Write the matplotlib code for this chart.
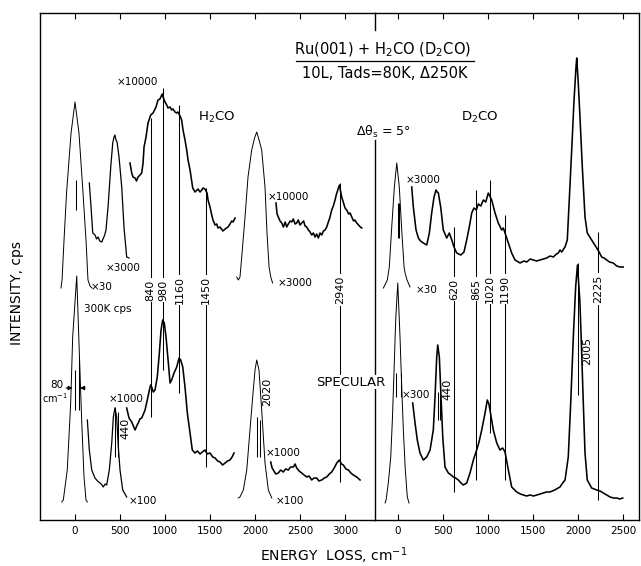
import matplotlib
matplotlib.use("Agg")
import matplotlib.pyplot as plt
from matplotlib.lines import Line2D

plt.rcParams['font.family'] = ['DejaVu Sans']
plt.rcParams['mathtext.default'] = 'regular'

# ---------------- data: energy loss (cm-1) / intensity (arb. units) ----------------
# H2CO, upper spectrum
h_up_el_E = [-156, -144, -122, -94, -44, 0, 44, 89, 122, 144, 167, 189]
h_up_el_I = [232, 240, 280, 327, 387, 418, 387, 327, 280, 240, 234, 232]

h_up_b_E = [159, 178, 197, 222, 240, 256, 275, 297, 311, 330, 344, 367, 397, 419, 433, 444, 455, 467, 489, 519, 544, 574, 600]
h_up_b_I = [337, 313, 287, 285, 281, 283, 279, 278, 281, 285, 290, 313, 353, 377, 383, 385, 380, 378, 363, 333, 293, 263, 262]

h_up_c_E = [611, 630, 644, 667, 683, 700, 722, 741, 756, 767, 789, 811, 841, 867, 900, 922, 944, 963, 974, 978,
            1000, 1019, 1033, 1056, 1074, 1089, 1111, 1130, 1144, 1167, 1185, 1200, 1222, 1241, 1256, 1278, 1308, 1333,
            1367, 1389, 1408, 1422, 1444, 1467, 1478, 1500, 1519, 1533, 1556, 1574, 1589, 1611, 1644, 1667, 1700, 1722,
            1741, 1756, 1778]
h_up_c_I = [357, 347, 343, 342, 339, 343, 345, 347, 357, 373, 383, 397, 405, 407, 413, 420, 421, 425, 426, 423,
            418, 415, 412, 413, 410, 411, 408, 407, 408, 404, 400, 390, 380, 370, 360, 350, 332, 328,
            331, 328, 330, 332, 331, 327, 320, 313, 305, 300, 295, 296, 292, 293, 289, 291, 293, 296,
            299, 298, 302]

h_up_d_E = [1796, 1815, 1833, 1856, 1889, 1922, 1963, 1995, 2019, 2045, 2074, 2111, 2133, 2156, 2175, 2195]
h_up_d_I = [243, 240, 243, 267, 303, 343, 370, 382, 388, 380, 370, 333, 287, 253, 243, 237]

h_up_e_E = [2233, 2245, 2259, 2278, 2297, 2315, 2335, 2352, 2370, 2390, 2408, 2425, 2445, 2463, 2480, 2500, 2519,
            2540, 2556, 2574, 2593, 2611, 2630, 2648, 2667, 2685, 2704, 2722, 2741, 2760, 2778, 2797, 2811, 2830,
            2852, 2870, 2889, 2905, 2920, 2930, 2940, 2950, 2963, 2980, 3000, 3019, 3040, 3056, 3075, 3095, 3110,
            3130, 3150, 3170, 3186]
h_up_e_I = [317, 306, 303, 299, 297, 293, 298, 293, 296, 299, 298, 301, 296, 297, 300, 295, 297,
            299, 294, 293, 290, 288, 285, 287, 283, 286, 282, 287, 285, 289, 290, 293, 297, 302,
            310, 314, 320, 326, 330, 333, 335, 329, 323, 318, 312, 310, 306, 307, 303, 299, 300,
            297, 295, 293, 292]

# H2CO, lower spectrum
h_lo_el_E = [-148, -130, -86, -48, -26, 19, 48, 74, 100, 122, 137]
h_lo_el_I = [18, 20, 50, 117, 183, 244, 167, 100, 43, 20, 18]

h_lo_g_E = [137, 159, 186, 222, 250, 278, 300, 314, 335, 352, 381, 408, 426, 444, 463, 481, 500, 530, 574]
h_lo_g_I = [100, 70, 50, 42, 39, 37, 35, 33, 36, 35, 50, 77, 103, 112, 103, 73, 50, 30, 23]

h_lo_h_E = [574, 600, 630, 667, 690, 703, 720, 741, 760, 778, 803, 826, 840, 852, 870, 889, 914, 937, 956, 974,
            992, 1011, 1037, 1056, 1074, 1100, 1130, 1156, 1174, 1197, 1222, 1248, 1278, 1303, 1333, 1360, 1389,
            1415, 1444, 1470, 1500, 1530, 1556, 1585, 1611, 1640, 1667, 1695, 1722, 1745, 1767]
h_lo_h_I = [112, 102, 98, 90, 95, 97, 101, 102, 106, 110, 120, 130, 135, 133, 128, 130, 143, 167, 190, 200,
            197, 183, 157, 137, 140, 147, 153, 162, 160, 153, 133, 107, 87, 70, 67, 69, 66,
            68, 70, 66, 67, 63, 62, 59, 58, 55, 57, 59, 60, 63, 67]

h_lo_i_E = [1814, 1833, 1870, 1908, 1944, 1974, 2000, 2019, 2044, 2074, 2111, 2148, 2186]
h_lo_i_I = [22, 23, 30, 50, 90, 123, 150, 160, 150, 110, 57, 30, 22]

h_lo_j_E = [2174, 2190, 2203, 2230, 2259, 2285, 2314, 2340, 2370, 2395, 2426, 2445, 2463, 2490, 2519, 2545, 2574,
            2600, 2630, 2655, 2685, 2710, 2741, 2770, 2797, 2825, 2852, 2880, 2908, 2937, 2960, 2981, 3010, 3037,
            3065, 3092, 3130, 3167]
h_lo_j_I = [58, 52, 50, 46, 47, 50, 48, 51, 50, 53, 53, 56, 52, 49, 47, 45, 43,
            44, 40, 42, 42, 39, 40, 42, 43, 46, 48, 52, 57, 60, 56, 55, 51, 50,
            47, 45, 43, 40]

# D2CO, upper spectrum
d_up_el_E = [-163, -119, -97, -70, -41, -14, 14, 41, 67, 78, 100, 133]
d_up_el_I = [232, 240, 253, 293, 333, 357, 333, 290, 253, 247, 240, 233]

d_up_b_E = [152, 170, 200, 226, 250, 281, 300, 319, 348, 374, 400, 422, 435, 448, 474, 503, 541, 570, 597, 622,
            652, 697, 733, 763, 792, 819, 844, 870, 892, 920, 948, 975, 1003, 1020, 1041, 1078, 1114, 1152, 1170,
            1189, 1226, 1263, 1300, 1356, 1400, 1430, 1470, 1503, 1540, 1578, 1615, 1652, 1690, 1726, 1760, 1781,
            1800, 1819, 1840, 1856, 1881, 1903, 1930, 1956, 1978, 1986, 2003, 2022, 2048, 2078, 2103, 2152, 2180,
            2208, 2235, 2263, 2290, 2319, 2350, 2392, 2430, 2467, 2503]
d_up_b_I = [333, 313, 290, 282, 279, 277, 276, 275, 287, 307, 323, 330, 328, 327, 313, 290, 282, 287, 280, 273,
            267, 265, 268, 280, 293, 307, 312, 310, 316, 314, 320, 318, 327, 324, 320, 307, 297, 290, 292,
            287, 277, 267, 260, 257, 259, 258, 261, 260, 259, 260, 261, 262, 264, 263, 266, 267,
            270, 268, 271, 273, 280, 320, 370, 420, 453, 462, 437, 403, 353, 303, 287, 280, 276,
            272, 268, 263, 262, 260, 258, 257, 254, 253, 253]

# D2CO, lower spectrum
d_lo_el_E = [-144, -133, -108, -81, -63, -44, -26, -3, 22, 41, 59, 81, 103, 122]
d_lo_el_I = [17, 20, 37, 63, 100, 150, 200, 237, 183, 133, 90, 50, 23, 17]

d_lo_b_E = [163, 189, 214, 244, 281, 319, 356, 392, 411, 430, 441, 459, 478, 497, 522, 559, 590, 614, 640, 670,
            700, 726, 745, 763, 800, 837, 874, 900, 930, 967, 992, 1010, 1022, 1059, 1097, 1133, 1163, 1189, 1226,
            1263, 1319, 1360, 1392, 1430, 1467, 1505, 1541, 1580, 1614, 1650, 1689, 1740, 1800, 1830, 1856, 1892,
            1919, 1948, 1974, 1994, 2022, 2041, 2059, 2078, 2103, 2152, 2208, 2245, 2281, 2320, 2356, 2395, 2430,
            2465, 2497]
d_lo_b_I = [117, 97, 80, 67, 60, 63, 70, 90, 123, 163, 175, 163, 123, 83, 53, 47, 45, 43, 42, 40,
            37, 35, 36, 37, 47, 60, 70, 78, 90, 107, 120, 116, 110, 90, 77, 70, 72, 68, 50,
            33, 28, 26, 25, 24, 25, 24, 25, 26, 27, 28, 28, 30, 33, 37, 40, 63,
            117, 183, 233, 255, 217, 167, 117, 67, 40, 32, 30, 29, 27, 25, 23, 22, 22,
            21, 22]

# assigned loss peaks (cm-1)
h2co_peaks = [840, 980, 1160, 1450, 2940]
h2co_peak_top = [402, 432, 415, 332, 337]
h2co_peak_bot = [103, 150, 127, 53, 38]
d2co_peaks = [620, 865, 1020, 1190, 2225]
d2co_peak_top = [293, 330, 340, 305, 288]
d2co_peak_bot = [28, 40, 87, 40, 20]

ticks_left = [0, 500, 1000, 1500, 2000, 2500, 3000]
ticks_right = [0, 500, 1000, 1500, 2000, 2500]

# ---------------- figure ----------------
W, H = 641, 566
fig = plt.figure(figsize=(W / 100, H / 100), dpi=100)

X0, XSEP, X1 = 40, 375, 639
YTOP, YBOT = 13, 520


def fx(px):
    return px / W


def fy(py):
    return 1 - py / H


axL = fig.add_axes([fx(X0), fy(YBOT), fx(XSEP) - fx(X0), fy(YTOP) - fy(YBOT)])
axR = fig.add_axes([fx(XSEP), fy(YBOT), fx(X1) - fx(XSEP), fy(YTOP) - fy(YBOT)])
for ax in (axL, axR):
    ax.patch.set_visible(False)
axL.set_xlim(-389, 3333)
axR.set_xlim(-256, 2678)
for ax in (axL, axR):
    ax.set_ylim(0, 507)
    ax.set_yticks([])
    ax.tick_params(axis='x', which='both', direction='in', top=True, bottom=True,
                   length=4.5, width=0.8, labelsize=7.5, pad=4)
    for s in ax.spines.values():
        s.set_linewidth(1.0)
axL.spines['right'].set_visible(False)
axR.spines['left'].set_bounds(0, 380)
axL.set_xticks(ticks_left)
axR.set_xticks(ticks_right)

k = dict(color='black', solid_joinstyle='round')
thin, mid, noisy = 0.7, 0.9, 1.15

# H2CO traces
axL.plot(h_up_el_E, h_up_el_I, lw=thin, **k)
axL.plot(h_up_b_E, h_up_b_I, lw=mid, **k)
axL.plot(h_up_c_E, h_up_c_I, lw=noisy, **k)
axL.plot(h_up_d_E, h_up_d_I, lw=thin, **k)
axL.plot(h_up_e_E, h_up_e_I, lw=noisy, **k)
axL.plot(h_lo_el_E, h_lo_el_I, lw=thin, **k)
axL.plot(h_lo_g_E, h_lo_g_I, lw=mid, **k)
axL.plot(h_lo_h_E, h_lo_h_I, lw=noisy, **k)
axL.plot(h_lo_i_E, h_lo_i_I, lw=thin, **k)
axL.plot(h_lo_j_E, h_lo_j_I, lw=noisy, **k)

# D2CO traces
axR.plot(d_up_el_E, d_up_el_I, lw=thin, **k)
axR.plot(d_up_b_E, d_up_b_I, lw=noisy, **k)
axR.plot(d_lo_el_E, d_lo_el_I, lw=thin, **k)
axR.plot(d_lo_b_E, d_lo_b_I, lw=noisy, **k)

lbl = dict(ha='center', va='center', fontsize=8, rotation=90,
           bbox=dict(facecolor='white', edgecolor='none', pad=1.0))

axL.vlines(h2co_peaks, h2co_peak_bot, h2co_peak_top, color='black', lw=0.75)
for e in h2co_peaks:
    axL.text(e, 230, str(e), **lbl)
axR.vlines(d2co_peaks, d2co_peak_bot, d2co_peak_top, color='black', lw=0.75)
for e in d2co_peaks:
    axR.text(e, 231, str(e), **lbl)

# short markers on individual peaks
axL.vlines([15], 310, 340, color='black', lw=0.75)
axL.vlines([0, 48], [110, 110], [150, 163], color='black', lw=0.75)
axL.vlines([440, 480], [63, 63], [113, 108], color='black', lw=0.75)
axL.vlines([2020, 2055], [63, 63], [103, 100], color='black', lw=0.75)
axR.vlines([-3, 14], 282, 317, color='black', lw=0.75)
axR.vlines([-26, 33], 123, 147, color='black', lw=0.75)
axR.vlines([440, 470], 100, 128, color='black', lw=0.75)
axR.vlines([2005], 125, 257, color='black', lw=0.75)

lbl_side = dict(ha='center', va='center', fontsize=8, rotation=90)
axL.text(556, 92, '440', **lbl_side)
axL.text(2133, 128, '2020', **lbl_side)
axR.text(544, 131, '440', **lbl_side)
axR.text(2097, 169, '2005', **lbl_side)

# FWHM of the elastic peak
ap = dict(arrowstyle='-|>', lw=0.8, color='black', mutation_scale=6, shrinkA=0, shrinkB=0)
axL.annotate('', xy=(-26, 132), xytext=(-100, 132), arrowprops=ap)
axL.annotate('', xy=(56, 132), xytext=(111, 132), arrowprops=ap)
axL.text(-200, 135, '80', ha='center', va='center', fontsize=7.5)
axL.text(-222, 122, 'cm$^{-1}$', ha='center', va='center', fontsize=7)

small = dict(ha='center', va='center', fontsize=7.5)
axL.text(689, 438, '×10000', **small)
axL.text(300, 233, '×30', **small)
axL.text(533, 252, '×3000', **small)
axL.text(367, 211, '300K cps', **small)
axL.text(567, 121, '×1000', **small)
axL.text(756, 19, '×100', **small)
axL.text(2367, 323, '×10000', **small)
axL.text(2444, 237, '×3000', **small)
axL.text(2311, 67, '×1000', **small)
axL.text(2389, 19, '×100', **small)
axL.text(1578, 403, 'H$_2$CO', ha='center', va='center', fontsize=9.5)

axR.text(278, 340, '×3000', **small)
axR.text(322, 230, '×30', **small)
axR.text(200, 125, '×300', **small)
axR.text(911, 403, 'D$_2$CO', ha='center', va='center', fontsize=9.5)

# figure-level texts
fig.text(fx(383), fy(50), 'Ru(001) + H$_2$CO (D$_2$CO)', ha='center', va='center', fontsize=10.5)
fig.add_artist(Line2D([fx(296), fx(474)], [fy(61), fy(61)], color='black', lw=0.9))
fig.text(fx(385), fy(73), '10L, Tads=80K, Δ250K', ha='center', va='center', fontsize=10.5)
fig.text(fx(383), fy(132), 'Δθ$_s$ = 5°', ha='center', va='center', fontsize=9)
fig.text(fx(351), fy(382), 'SPECULAR', ha='center', va='center', fontsize=9.5,
         bbox=dict(facecolor='white', edgecolor='none', pad=0.5))
fig.add_artist(Line2D([fx(XSEP), fx(XSEP)], [fy(YTOP), fy(30)], color='black', lw=1.0))
fig.text(fx(334), fy(556), 'ENERGY  LOSS, cm$^{-1}$', ha='center', va='center', fontsize=10)
fig.text(fx(17), fy(293), 'INTENSITY, cps', ha='center', va='center', fontsize=10, rotation=90)

fig.savefig('out.png', dpi=100)
